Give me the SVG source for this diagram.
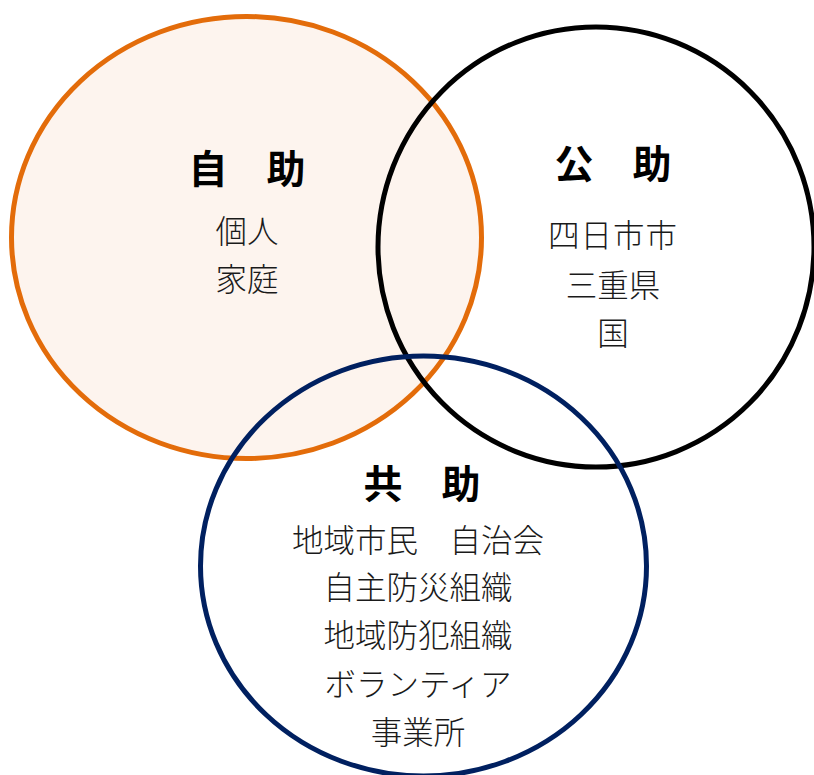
<svg xmlns="http://www.w3.org/2000/svg" width="814" height="775" viewBox="0 0 814 775">
<style>
.t{font-family:"Noto Sans CJK JP","Noto Sans CJK SC",sans-serif;font-size:39px;font-weight:bold;fill:#000;text-anchor:middle;dominant-baseline:central}
.b{font-family:"Noto Sans CJK JP","Noto Sans CJK SC",sans-serif;font-size:31.5px;font-weight:300;fill:#1a1a1a;text-anchor:middle;dominant-baseline:central}
.c{stroke-width:5}
</style>
<rect width="814" height="775" fill="#fff"/>
<g id="jijo">
<ellipse class="c" cx="246.5" cy="237.5" rx="235" ry="221" fill="#FDF4EE" stroke="#E36C0A"/>
</g>
<g id="kojo">
<ellipse class="c" cx="596" cy="247" rx="218" ry="220" fill="none" stroke="#000"/>
</g>
<g id="kyojo">
<ellipse class="c" cx="423.5" cy="566" rx="223" ry="210" fill="none" stroke="#002060"/>
</g>
<g id="labels">
<text class="t" x="247" y="166" xml:space="preserve">自　助</text>
<text class="b" x="247" y="229">個人</text>
<text class="b" x="247" y="277">家庭</text>
<text class="t" x="613" y="161" xml:space="preserve">公　助</text>
<text class="b" x="613" y="233" letter-spacing="1">四日市市</text>
<text class="b" x="613" y="283">三重県</text>
<text class="b" x="613" y="331">国</text>
<text class="t" x="422" y="481" xml:space="preserve">共　助</text>
<text class="b" x="418" y="538" xml:space="preserve">地域市民　自治会</text>
<text class="b" x="418" y="585">自主防災組織</text>
<text class="b" x="418" y="633">地域防犯組織</text>
<text class="b" x="418" y="682">ボランティア</text>
<text class="b" x="418" y="730">事業所</text>
</g>
</svg>
